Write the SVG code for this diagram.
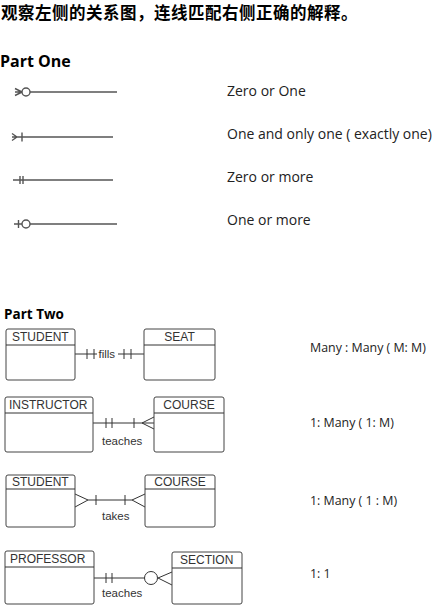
<svg xmlns="http://www.w3.org/2000/svg" width="435" height="609" viewBox="0 0 435 609">
<style>
.title{font-family:"Noto Sans CJK SC","Noto Sans",sans-serif;font-weight:bold;font-size:16.5px;fill:#000;letter-spacing:0.5px}
.h{font-family:"Open Sans","Noto Sans",sans-serif;font-weight:bold;fill:#000}
.lbl{font-family:"Open Sans","Noto Sans",sans-serif;font-size:14px;fill:#222}
.lbl2{font-family:"Open Sans","Noto Sans",sans-serif;font-size:12.4px;fill:#222}
.sym{stroke:#555;stroke-width:1.4;fill:none}
.box{fill:#fff;stroke:#444;stroke-width:1}
.bt{font-family:"Liberation Sans",Arial,sans-serif;font-size:12px;fill:#333}
.ct{font-family:"Liberation Sans",Arial,sans-serif;font-size:11.5px;fill:#333}
.cn{stroke:#333;stroke-width:1;fill:none}
</style>
<rect width="435" height="609" fill="#fff"/>
<text class="title" x="1" y="18.5">观察左侧的关系图，连线匹配右侧正确的解释。</text>
<text class="h" x="0" y="67" font-size="16">Part One</text>

<g id="symbols">
  <g id="sym1">
    <path class="sym" d="M15 88.5L22 92M15 95.5L22 92M15 92H22M30 92H117"/>
    <circle class="sym" cx="26" cy="92" r="4"/>
  </g>
  <g id="sym2">
    <path class="sym" d="M12 133.5L17 137M12 140.5L17 137M12 137H113M22 132.5V141.5"/>
  </g>
  <g id="sym3">
    <path class="sym" d="M13 180H113M20 176V184M23 176V184"/>
  </g>
  <g id="sym4">
    <path class="sym" d="M14 224H22M30 224H117M18.5 220V228"/>
    <circle class="sym" cx="26" cy="224" r="4"/>
  </g>
</g>

<g id="part-one-labels">
  <text class="lbl" x="227" y="96">Zero or One</text>
  <text class="lbl" x="227" y="139">One and only one ( exactly one)</text>
  <text class="lbl" x="227" y="182">Zero or more</text>
  <text class="lbl" x="227" y="225">One or more</text>
</g>

<text class="h" x="4" y="319" font-size="13.5">Part Two</text>

<g id="connectors">
  <path class="cn" d="M75 354H97M118 354H144M87 349V359M94 349V359M124 349V359M131 349V359"/>
  <text class="ct" x="98.5" y="357.5">fills</text>
  <path class="cn" d="M93 423H154M106 418V428M112 418V428M134 418V428M142 423L154 417M142 423L154 429"/>
  <text class="ct" x="102" y="445">teaches</text>
  <path class="cn" d="M75 494L88 500L75 507M88 500H132M96 495V505M125 495V505M145 494L132 500L145 507"/>
  <text class="ct" x="102" y="520">takes</text>
  <path class="cn" d="M94 578H144.5M106 573V583M112 573V583M158 578L172 572M158 578L172 585"/>
  <circle class="cn" cx="151" cy="578" r="6.5"/>
  <text class="ct" x="102" y="597">teaches</text>
</g>

<g id="student1">
  <rect class="box" x="6" y="329" width="69" height="51" rx="2"/>
  <path class="cn" d="M6 345H75"/>
  <text class="bt" x="12" y="341">STUDENT</text>
</g>
<g id="seat">
  <rect class="box" x="144" y="329" width="71" height="51" rx="2"/>
  <path class="cn" d="M144 345H215"/>
  <text class="bt" x="179.5" y="341" text-anchor="middle">SEAT</text>
</g>
<g id="instructor">
  <rect class="box" x="5" y="397" width="88" height="55" rx="2"/>
  <path class="cn" d="M5 413H93"/>
  <text class="bt" x="9" y="409">INSTRUCTOR</text>
</g>
<g id="course1">
  <rect class="box" x="154" y="397" width="70" height="55" rx="2"/>
  <path class="cn" d="M154 413H224"/>
  <text class="bt" x="189" y="409" text-anchor="middle">COURSE</text>
</g>
<g id="student2">
  <rect class="box" x="6" y="475" width="69" height="52" rx="2"/>
  <path class="cn" d="M6 489H75"/>
  <text class="bt" x="12" y="486">STUDENT</text>
</g>
<g id="course2">
  <rect class="box" x="145" y="475" width="70" height="52" rx="2"/>
  <path class="cn" d="M145 489H215"/>
  <text class="bt" x="180" y="486" text-anchor="middle">COURSE</text>
</g>
<g id="professor">
  <rect class="box" x="5" y="551" width="89" height="53" rx="2"/>
  <path class="cn" d="M5 567H94"/>
  <text class="bt" x="10" y="563">PROFESSOR</text>
</g>
<g id="section">
  <rect class="box" x="172" y="552" width="70" height="52" rx="2"/>
  <path class="cn" d="M172 568H242"/>
  <text class="bt" x="180" y="564">SECTION</text>
</g>

<g id="part-two-labels">
  <text class="lbl2" x="310" y="352">Many : Many ( M: M)</text>
  <text class="lbl2" x="310" y="427">1: Many ( 1: M)</text>
  <text class="lbl2" x="310" y="505">1: Many ( 1 : M)</text>
  <text class="lbl2" x="310" y="578">1: 1</text>
</g>
</svg>
